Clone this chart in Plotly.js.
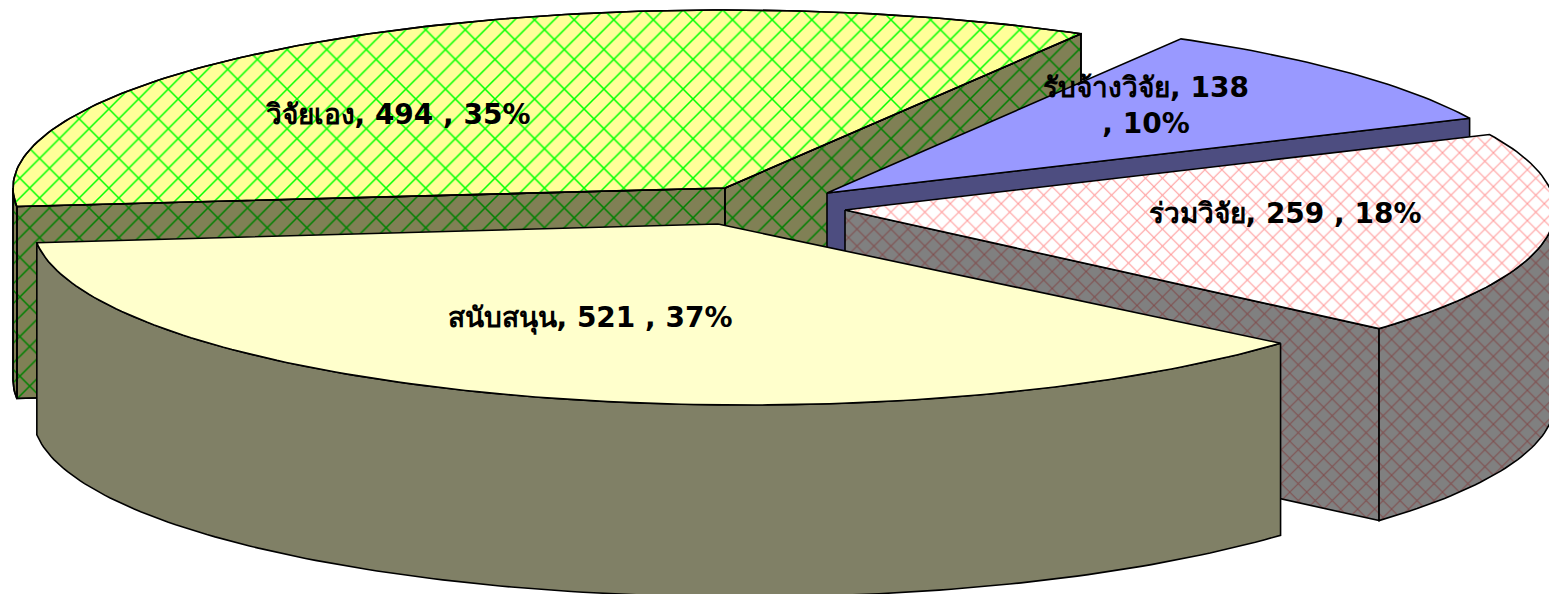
<!DOCTYPE html>
<html><head><meta charset="utf-8">
<script src="https://cdn.plot.ly/plotly-3.0.1.min.js"></script>
<style>html,body{margin:0;padding:0;background:#fff;overflow:hidden}</style>
</head><body><div id="chart" style="width:1549px;height:594px"></div>
<script>
// ---- data (clockwise from the top-right slice)
const categories = ['รับจ้างวิจัย', 'ร่วมวิจัย', 'สนับสนุน', 'วิจัยเอง'];
const values = [138, 259, 521, 494];
const percents = [10, 18, 37, 35];

// ---- drawing geometry (pixels of the picture, used as axis units)
const W = 1549, H = 594;
const startDeg = -60;
const geom = [
  {ax:827, ay:193, cx:827, cy:193, a:708, b:178, d:192},
  {ax:845, ay:210, cx:845, cy:210, a:710, b:180, d:192},
  {ax:718, ay:224, cx:745, cy:224, a:712, b:181, d:192},
  {ax:725, ay:188, cx:725, cy:188, a:712, b:178, d:192}
];
const brickTop = {bgcolor:'#FFFF99', fgcolor:'#00FF00'};
const brickSide = {bgcolor:'#808055', fgcolor:'#008000'};
const styles = [
  {top:[{bgcolor:'#9999FF'}], side:[{bgcolor:'#4D4D80'}]},
  {top:[{bgcolor:'#FFFFFF', fgcolor:'#FF9999', shape:'x', size:12, solidity:0.16}],
   side:[{bgcolor:'#808080', fgcolor:'#804D4D', shape:'x', size:12, solidity:0.16}]},
  {top:[{bgcolor:'#FFFFCC'}], side:[{bgcolor:'#808066'}]},
  {top:[{...brickTop, shape:'/', size:14, solidity:0.11},
        {bgcolor:'rgba(0,0,0,0)', fgcolor:brickTop.fgcolor, shape:'\\', size:28, solidity:0.055}],
   side:[{...brickSide, shape:'/', size:14, solidity:0.11},
         {bgcolor:'rgba(0,0,0,0)', fgcolor:brickSide.fgcolor, shape:'\\', size:28, solidity:0.055}]}
];
const labelPos = [[1146,108],[1285,216],[590,320],[398,117]];
const labelText = categories.map((c,i)=>`${c}, ${values[i]} , ${percents[i]}%`);
labelText[0] = `${categories[0]}, ${values[0]}<br>, ${percents[0]}%`;

// ---- slice angles derive from the values
const total = values.reduce((s,v)=>s+v,0);
let run = startDeg;
const spans = values.map(v=>{const s=run; run+=v/total*360; return [s,run];});
const rad = d=>d*Math.PI/180;
const pt = (g,t,dy=0)=>[g.cx+g.a*Math.cos(rad(t)), g.cy+g.b*Math.sin(rad(t))+dy];
const arc = (g,s,e,dy=0)=>{const n=Math.max(2,Math.ceil(Math.abs(e-s)));const o=[];
  for(let k=0;k<=n;k++)o.push(pt(g,s+(e-s)*k/n,dy));return o;};

const traces=[];
function poly(pts, layers){
  const closed = pts.concat([pts[0]]);
  layers.forEach(st=>{
    const tr = {type:'scatter', mode:'lines', x:closed.map(p=>p[0]), y:closed.map(p=>p[1]),
      fill:'toself', fillcolor:st.bgcolor, line:{color:'#000', width:1.6}, hoverinfo:'skip', showlegend:false};
    if(st.shape) tr.fillpattern = {shape:st.shape, bgcolor:st.bgcolor, fgcolor:st.fgcolor, size:st.size, solidity:st.solidity};
    traces.push(tr);
  });
}
function wall(g,t,st){ // radial wall from apex to rim point at angle t
  const p=pt(g,t);
  poly([[g.ax,g.ay],p,[p[0],p[1]+g.d],[g.ax,g.ay+g.d]],st);
}
function rim(g,s,e,st){ // outer wall along the arc
  poly(arc(g,s,e).concat(arc(g,e,s,g.d)),st);
}
function face(g,s,e,st){ poly([[g.ax,g.ay]].concat(arc(g,s,e)),st); }

[3,0,1,2].forEach(i=>{
  const g=geom[i], [s,e]=spans[i], st=styles[i];
  if(i===3){ wall(g,s,st.side); wall(g,e,st.side); rim(g,s,180,st.side); }
  if(i===0){ wall(g,e,st.side); }
  if(i===1){ wall(g,e,st.side); rim(g,0,e,st.side); }
  if(i===2){ rim(g,s,e,st.side); }
  face(g,s,e,st.top);
});
traces.push({type:'scatter', mode:'text', x:labelPos.map(p=>p[0]), y:labelPos.map(p=>p[1]),
  text:labelText, textposition:'middle center',
  textfont:{family:'"DejaVu Sans","Noto Sans",sans-serif', size:28, color:'#000', weight:700},
  hoverinfo:'skip', showlegend:false});

Plotly.newPlot('chart', traces, {
  width:W, height:H, margin:{l:0,r:0,t:0,b:0}, paper_bgcolor:'#fff', plot_bgcolor:'#fff', showlegend:false,
  xaxis:{range:[0,W], visible:false, fixedrange:true},
  yaxis:{range:[H,0], visible:false, fixedrange:true}
}, {displayModeBar:false, staticPlot:true});
</script></body></html>
